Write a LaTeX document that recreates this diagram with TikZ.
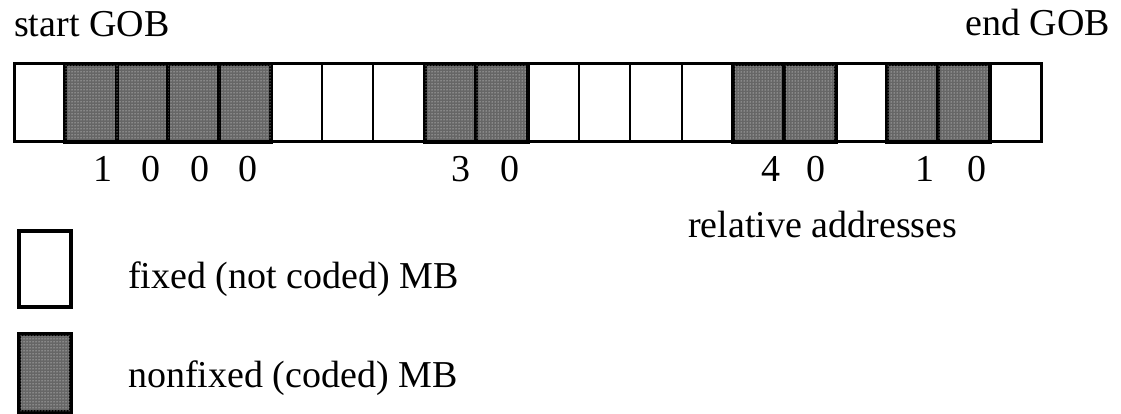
\documentclass[tikz,border=0pt]{standalone}
\usepackage{fontspec}
\setmainfont{Liberation Serif}
\usetikzlibrary{patterns}
\tikzset{
  mbcell/.style={draw, line width=2pt, minimum width=51.35pt, minimum height=78pt,
    inner sep=0pt, outer sep=0pt},
  fixedmb/.style={mbcell, fill=white},
  codedmb/.style={mbcell, line width=4pt, fill=black!60,
    postaction={pattern=dots, pattern color=white}},
  legendbox/.style={draw, line width=3.5pt, minimum width=52pt, inner sep=0pt, outer sep=0pt},
  lbl/.style={font=\fontsize{38}{44}\selectfont, inner sep=0pt},
}
\begin{document}
\begin{tikzpicture}[x=1pt,y=-1pt]
\useasboundingbox (0,0) rectangle (1121,414);

% macroblocks of the GOB: fixed ones first, coded ones drawn on top
\foreach \i in {0,5,6,7,10,11,12,13,16,19}
  \node[fixedmb] (c\i) at ({14+51.35*(\i+0.5)},103) {};
\foreach \i in {1,2,3,4,8,9,14,15,17,18}
  \node[codedmb] (c\i) at ({14+51.35*(\i+0.5)},103) {};
\draw[line width=3pt] (c0.north west) rectangle (c19.south east);

% GOB labels
\node[lbl, anchor=base west] (start) at (14,37) {start GOB};
\node[lbl, anchor=base east] (end) at (1110,36) {end GOB};

% relative addresses of the coded macroblocks
\node[lbl, anchor=base] (a1) at (103,182) {1};
\node[lbl, anchor=base] (a2) at (151,182) {0};
\node[lbl, anchor=base] (a3) at (200,182) {0};
\node[lbl, anchor=base] (a4) at (248,182) {0};
\node[lbl, anchor=base] (a5) at (461,182) {3};
\node[lbl, anchor=base] (a6) at (510,182) {0};
\node[lbl, anchor=base] (a7) at (771,182) {4};
\node[lbl, anchor=base] (a8) at (816,182) {0};
\node[lbl, anchor=base] (a9) at (925,182) {1};
\node[lbl, anchor=base] (a10) at (977,182) {0};
\node[lbl, anchor=base west] (rel) at (688,237) {relative addresses};

% legend
\node[legendbox, minimum height=76pt, fill=white] (kfixed) at (45,269) {};
\node[legendbox, minimum height=78pt, fill=black!60,
  postaction={pattern=dots, pattern color=white}] (kcoded) at (45,373) {};
\node[lbl, anchor=base west] (tfixed) at (128,288) {fixed (not coded) MB};
\node[lbl, anchor=base west] (tcoded) at (128,387) {nonfixed (coded) MB};
\end{tikzpicture}
\end{document}
